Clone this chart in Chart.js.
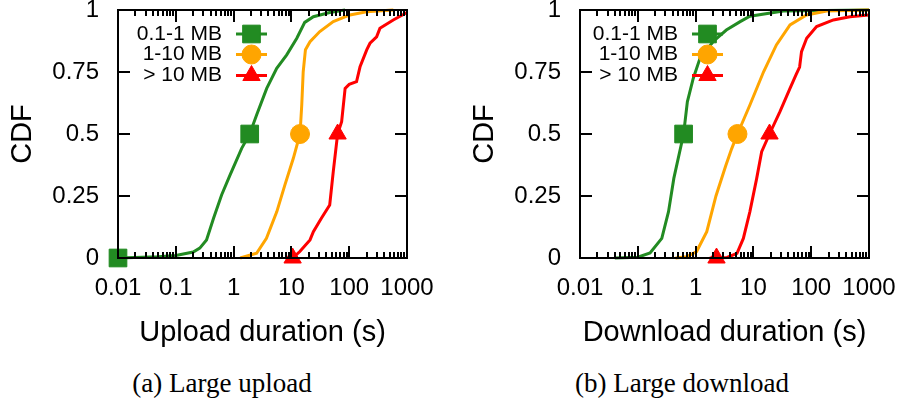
<!DOCTYPE html>
<html>
<head>
<meta charset="utf-8">
<script src="https://cdn.jsdelivr.net/npm/chart.js@4/dist/chart.umd.min.js"></script>
<style>
  html, body { margin: 0; padding: 0; background: #fff; }
  #wrap { position: relative; width: 906px; height: 404px; overflow: hidden; background: #fff; }
  canvas { position: absolute; top: 0; }
  #c1 { left: 0px; }
  #c2 { left: 462px; }
  .cap { position: absolute; top: 370px; width: 320px; text-align: center;
         font-family: "Liberation Serif", "Times New Roman", serif; font-size: 27px; line-height: 27px; color: #000; white-space: nowrap; }
</style>
</head>
<body>
<div id="wrap">
  <canvas id="c1" width="440" height="360"></canvas>
  <canvas id="c2" width="440" height="360"></canvas>
  <div class="cap" style="left:62px">(a) Large upload</div>
  <div class="cap" style="left:522px">(b) Large download</div>
</div>
<script>
// ---- data ----
const xTicks = [0.01, 0.1, 1, 10, 100, 1000];
const yTicks = [0, 0.25, 0.5, 0.75, 1];
const minorMultipliers = [2, 3, 4, 5, 6, 7, 8, 9];
const sizeClasses = ['0.1-1 MB', '1-10 MB', '> 10 MB'];

// Upload durations (s) and CDF
const upSmallDur = [0.01, 0.05, 0.1, 0.2, 0.26, 0.34, 0.45, 0.62, 0.87, 1.38, 1.9, 2.5, 3.74, 5.57, 8.3, 12.4, 17, 24, 46, 85];
const upSmallCdf = [0, 0.005, 0.01, 0.024, 0.04, 0.073, 0.16, 0.254, 0.335, 0.442, 0.5, 0.577, 0.684, 0.765, 0.819, 0.886, 0.95, 0.973, 0.99, 1.0];
const upSmallMarks = [0, 10];

const upMidDur = [1.3, 2.5, 3.7, 5.6, 7.7, 10.8, 14.1, 15.1, 16, 17.5, 21, 31, 53, 103, 200, 580];
const upMidCdf = [0, 0.019, 0.079, 0.187, 0.294, 0.402, 0.5, 0.617, 0.751, 0.84, 0.872, 0.913, 0.953, 0.98, 0.993, 1.0];
const upMidMarks = [6];

const upBigDur = [10.5, 14, 21, 24, 33, 46, 53, 63, 74, 85, 100, 134, 154, 201, 229, 298, 340, 578, 1000];
const upBigCdf = [0, 0.026, 0.073, 0.106, 0.16, 0.214, 0.348, 0.5, 0.55, 0.684, 0.70, 0.711, 0.771, 0.839, 0.866, 0.892, 0.926, 0.96, 0.99];
const upBigMarks = [0, 7];

// Download durations (s) and CDF
const dnSmallDur = [0.04, 0.1, 0.163, 0.26, 0.34, 0.42, 0.62, 0.72, 0.91, 1.19, 2.0, 3.4, 5.9, 8.7, 33, 1000];
const dnSmallCdf = [0, 0.003, 0.02, 0.079, 0.187, 0.321, 0.5, 0.63, 0.724, 0.805, 0.872, 0.919, 0.953, 0.975, 0.996, 1.0];
const dnSmallMarks = [6];

const dnMidDur = [0.45, 0.7, 1.04, 1.56, 2.25, 3.3, 4.2, 5.3, 8.7, 15, 25, 43, 83, 185, 1000];
const dnMidCdf = [0, 0.005, 0.026, 0.106, 0.25, 0.37, 0.44, 0.5, 0.617, 0.751, 0.859, 0.94, 0.98, 0.996, 1.0];
const dnMidMarks = [7];

const dnBigDur = [1.75, 2.3, 3.5, 5.2, 6.7, 8.7, 11.4, 13.9, 19, 28.8, 43, 55, 63, 68, 83.5, 124, 242, 468, 1000];
const dnBigCdf = [0, 0, 0.002, 0.019, 0.079, 0.187, 0.321, 0.429, 0.5, 0.59, 0.684, 0.74, 0.77, 0.832, 0.886, 0.933, 0.96, 0.973, 0.98];
const dnBigMarks = [1, 8];

// ---- styling ----
const COLORS = ['#228B22', '#FFA500', '#FF0000'];
const STYLES = ['rect', 'circle', 'triangle'];
const RADII = [12.5, 9.5, 10];
const SANS = '"Liberation Sans", Arial, Helvetica, sans-serif';

// all log ticks (decades + minor)
const allXTicks = [];
xTicks.forEach((d, i) => {
  allXTicks.push(d);
  if (i < xTicks.length - 1) minorMultipliers.forEach(m => allXTicks.push(d * m));
});
const isMajor = v => xTicks.includes(v);

function makeDataset(i, dur, cdf, marks) {
  return {
    label: sizeClasses[i],
    data: dur.map((x, k) => ({ x: x, y: cdf[k] })),
    borderColor: COLORS[i],
    backgroundColor: COLORS[i],
    borderWidth: 3,
    tension: 0,
    pointStyle: STYLES[i],
    pointRadius: ctx => marks.includes(ctx.dataIndex) ? RADII[i] : 0,
    pointHoverRadius: ctx => marks.includes(ctx.dataIndex) ? RADII[i] : 0,
    pointBorderWidth: 1,
    pointBackgroundColor: COLORS[i],
    pointBorderColor: COLORS[i],
    clip: false,
    order: 3 - i
  };
}

// frame re-drawn on top of everything, using the chart's own scales
const frameTicks = {
  id: 'frameTicks',
  afterDraw(chart) {
    const ctx = chart.ctx;
    const a = chart.chartArea;
    const sx = chart.scales.x, sy = chart.scales.y;
    const L = Math.round(a.left), R = Math.round(a.right), T = Math.round(a.top), B = Math.round(a.bottom);
    ctx.save();
    ctx.fillStyle = '#000000';
    ctx.fillRect(L - 1, T - 1, R - L + 2, 2);
    ctx.fillRect(L - 1, B - 1, R - L + 2, 2);
    ctx.fillRect(L - 1, T - 1, 2, B - T + 2);
    ctx.fillRect(R - 1, T - 1, 2, B - T + 2);
    for (const v of yTicks) {
      const y = Math.round(sy.getPixelForValue(v));
      ctx.fillRect(L, y - 1, 12, 2);
      ctx.fillRect(R - 12, y - 1, 12, 2);
    }
    for (const v of allXTicks) {
      const x = Math.round(sx.getPixelForValue(v));
      const len = isMajor(v) ? 12 : 6;
      ctx.fillRect(x - 1, B - len, 2, len);
      ctx.fillRect(x - 1, T, 2, len);
    }
    ctx.restore();
  }
};

const keyPlugin = {
  id: 'gpKey',
  afterDraw(chart, args, opts) {
    const { ctx, chartArea: a } = chart;
    const rows = [34, 54.5, 75.5];
    ctx.save();
    ctx.font = '21px ' + SANS;
    ctx.textAlign = 'right';
    ctx.textBaseline = 'middle';
    sizeClasses.forEach((name, i) => {
      const y = rows[i];
      ctx.fillStyle = '#000';
      ctx.fillText(name, a.left + opts.textRight, y);
      const x0 = a.left + opts.lineStart, x1 = x0 + 31;
      ctx.strokeStyle = COLORS[i];
      ctx.lineWidth = 3;
      ctx.beginPath(); ctx.moveTo(x0, y); ctx.lineTo(x1, y); ctx.stroke();
      ctx.fillStyle = COLORS[i];
      ctx.strokeStyle = COLORS[i];
      ctx.lineWidth = 1;
      Chart.helpers.drawPoint(ctx, { pointStyle: STYLES[i], radius: RADII[i], rotation: 0, borderWidth: 1 }, (x0 + x1) / 2, y);
    });
    ctx.restore();
  }
};

const BORDER = { display: true, color: '#000', width: 2 };
function tickGrid(dashFn) {
  return { display: true, drawOnChartArea: false, drawTicks: true, tickLength: -12,
           lineWidth: 2, tickWidth: 2, tickColor: '#000', color: '#000',
           tickBorderDash: dashFn };
}

function xAxis(pos, title) {
  const bottom = pos === 'bottom';
  return {
    type: 'logarithmic', position: pos, min: 0.01, max: 1000,
    border: BORDER,
    grid: tickGrid(c => (c.tick && isMajor(c.tick.value)) ? [] : (bottom ? [7, 100] : [0, 6, 7, 100])),
    afterBuildTicks: s => { s.ticks = allXTicks.map(v => ({ value: v })); },
    afterFit: s => { s.height = bottom ? 102 : 0; s.paddingLeft = 0; s.paddingRight = 0; },
    ticks: { display: bottom, color: '#000', font: { family: SANS, size: 24 }, padding: 27.6, maxRotation: 0, minRotation: 0, autoSkip: false,
             callback: v => isMajor(v) ? String(v) : '' },
    title: { display: bottom, text: title, color: '#000', font: { family: SANS, size: 29 }, padding: { top: 0, bottom: 9.6 } }
  };
}

function yAxis(pos) {
  const left = pos === 'left';
  return {
    type: 'linear', position: pos, min: 0, max: 1,
    border: BORDER,
    grid: tickGrid([]),
    afterBuildTicks: s => { s.ticks = yTicks.map(v => ({ value: v })); },
    afterFit: s => { s.width = left ? 118 : 0; s.paddingTop = 0; s.paddingBottom = 0; },
    ticks: { display: left, color: '#000', font: { family: SANS, size: 24, lineHeight: 0.8 }, padding: 31,
             callback: v => String(v) },
    title: { display: left, text: 'CDF', color: '#000', font: { family: SANS, size: 29 }, padding: { top: 5.6, bottom: 0 } }
  };
}

function makeChart(id, title, sets, key) {
  return new Chart(document.getElementById(id), {
    type: 'line',
    data: { datasets: sets },
    plugins: [frameTicks, keyPlugin],
    options: {
      responsive: false,
      animation: false,
      events: [],
      layout: { autoPadding: false, padding: { top: 10, right: 33, bottom: 0, left: 0 } },
      plugins: { legend: { display: false }, tooltip: { enabled: false }, gpKey: key },
      scales: {
        x: xAxis('bottom', title),
        x2: xAxis('top', ''),
        y: yAxis('left'),
        y2: yAxis('right')
      }
    }
  });
}

makeChart('c1', 'Upload duration (s)', [
  makeDataset(0, upSmallDur, upSmallCdf, upSmallMarks),
  makeDataset(1, upMidDur, upMidCdf, upMidMarks),
  makeDataset(2, upBigDur, upBigCdf, upBigMarks)
], { textRight: 104, lineStart: 118 });

makeChart('c2', 'Download duration (s)', [
  makeDataset(0, dnSmallDur, dnSmallCdf, dnSmallMarks),
  makeDataset(1, dnMidDur, dnMidCdf, dnMidMarks),
  makeDataset(2, dnBigDur, dnBigCdf, dnBigMarks)
], { textRight: 98, lineStart: 112 });
</script>
</body>
</html>
